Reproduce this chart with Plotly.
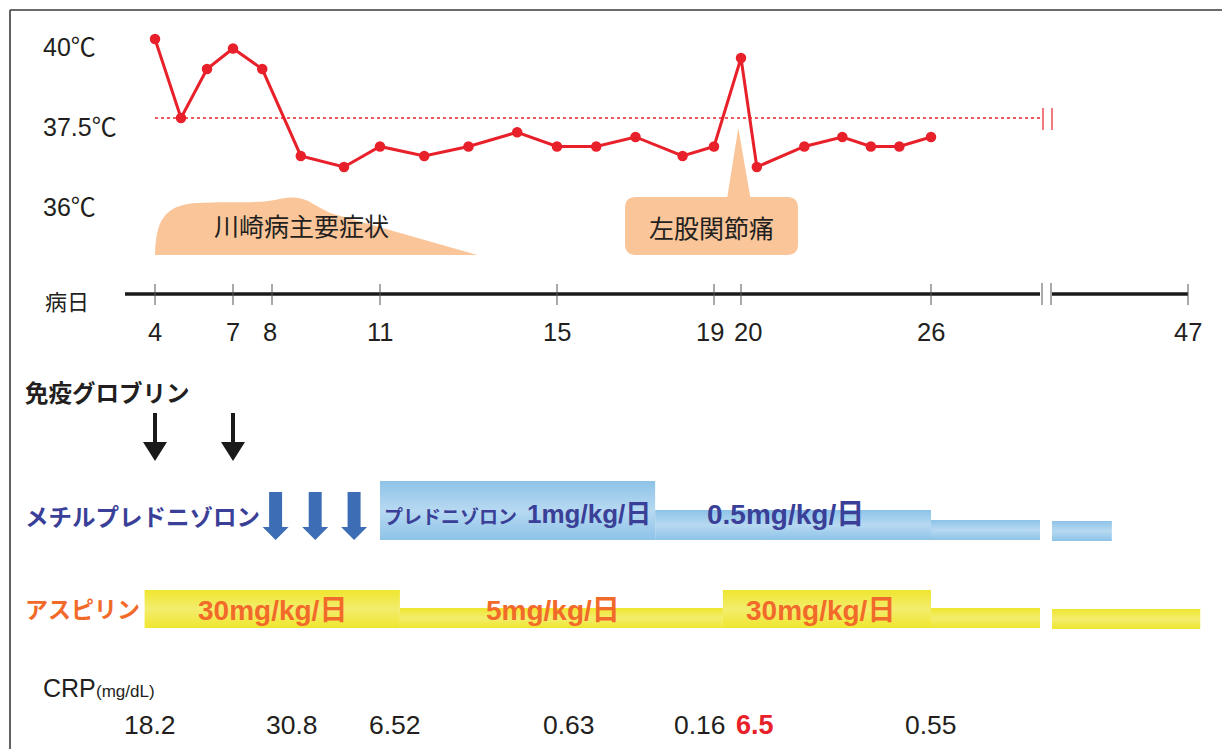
import numpy as np
import plotly.graph_objects as go

# ---------------- data ----------------
# schematic time axis: day -> anchor (non-linear, with a break after day 30)
axis_days = [3, 4, 7, 8, 11, 15, 19, 20, 26, 30, 37, 47, 48]
tick_days = [4, 7, 8, 11, 15, 19, 20, 26, 47]
tick_labels = ["4", "7", "8", "11", "15", "19", "20", "26", "47"]

temp_days = [4, 5, 6, 7, 7.75, 8.8, 10, 11, 12, 13, 14.1, 15, 16, 17, 18.2, 19, 20, 20.5, 22, 23.2, 24.1, 25, 26]
temp_values = [40.0, 37.5, 39.05, 39.7, 39.05, 36.3, 35.95, 36.6, 36.3, 36.6, 37.05, 36.6, 36.6,
               36.9, 36.3, 36.6, 39.4, 35.95, 36.6, 36.9, 36.6, 36.6, 36.9]
fever_threshold = 37.5
temp_tick_labels = ["40℃", "37.5℃", "36℃"]

symptom_label = "川崎病主要症状"
symptom_start, symptom_end = 4, 13.2
joint_label = "左股関節痛"
joint_day = 19.9

ivig_label = "免疫グロブリン"
ivig_days = [4, 7]
mpsl_label = "メチルプレドニゾロン"
mpsl_days = [8.1, 9.2, 10.28]

pred_name = "プレドニゾロン"
pred_start = [11, 17.5, 26, 37]
pred_end = [17.5, 26, 30, 41.4]
pred_labels = ["1mg/kg/日", "0.5mg/kg/日", "", ""]

asa_label = "アスピリン"
asa_start = [3.6, 11.45, 19.33, 26, 37]
asa_end = [11.45, 19.33, 26, 30, 47.9]
asa_labels = ["30mg/kg/日", "5mg/kg/日", "30mg/kg/日", "", ""]

crp_days = [3.8, 8.55, 11.35, 15.3, 18.65, 20.45, 26]
crp_values = ["18.2", "30.8", "6.52", "0.63", "0.16", "6.5", "0.55"]
crp_highlight = [False, False, False, False, False, True, False]

# ---------------- layout constants ----------------
W, H = 1222, 749
axis_pos = [129, 155, 233, 272, 380, 557, 714, 741, 931, 1040, 1052, 1188, 1201.6]


def pos(d):
    return float(np.interp(d, axis_days, axis_pos))


FONT = "Liberation Sans, Arial, Noto Sans CJK JP, sans-serif"
JP = "Noto Sans CJK JP, sans-serif"
DARK = "#231F20"
RED = "#E8202A"
PEACH = "#F9C599"
NAVY = "#3A3F98"
ORANGE = "#F26A2A"
BLUE_ARROW = "#3D6DB4"

fig = go.Figure()
shapes = []
ann = []


def text(x, y, s, size=24, color=DARK, anchor="center", family=FONT, bold=False):
    ann.append(dict(x=x, y=y, xref="x", yref="y2", text=("<b>%s</b>" % s) if bold else s,
                    showarrow=False, xanchor=anchor, yanchor="middle", borderpad=0,
                    font=dict(size=size, color=color, family=family)))


# frame
shapes.append(dict(type="line", xref="x", yref="y2", x0=10, x1=W, y0=10, y1=10,
                   line=dict(color="#3a3a3a", width=1.6)))
shapes.append(dict(type="line", xref="x", yref="y2", x0=10, x1=10, y0=10, y1=H,
                   line=dict(color="#3a3a3a", width=1.6)))

# symptom blob
x0, x1 = pos(symptom_start), pos(symptom_end)
p = (f"M{x0},255 C{x0+1},222 {x0+8},205 {x0+42},203 C{x0+75},201 {x0+100},204 {x0+120},200 "
     f"C{x0+135},196 {x0+147},196 {x0+160},205 L{x0+175},213 L{x1},255 Z")
shapes.append(dict(type="path", xref="x", yref="y2", path=p, fillcolor=PEACH,
                   line=dict(width=0), layer="below"))
text(301, 225, symptom_label, size=25, family=JP)

# joint pain callout
jx = pos(joint_day)
bx0, bx1, by0, by1, r = 625, 798, 197, 255, 11
p = (f"M{bx0+r},{by0} L{jx-11},{by0} L{jx},128 L{jx+12},{by0} L{bx1-r},{by0} "
     f"Q{bx1},{by0} {bx1},{by0+r} L{bx1},{by1-r} Q{bx1},{by1} {bx1-r},{by1} "
     f"L{bx0+r},{by1} Q{bx0},{by1} {bx0},{by1-r} L{bx0},{by0+r} Q{bx0},{by0} {bx0+r},{by0} Z")
shapes.append(dict(type="path", xref="x", yref="y2", path=p, fillcolor=PEACH,
                   line=dict(width=0), layer="below"))
text(711, 227, joint_label, size=25, family=JP)

# temperature labels
for lab, yy in zip(temp_tick_labels, [47, 127, 207]):
    text(42, yy, lab, size=25, anchor="left")

# fever threshold (dotted) + break marks
fig.add_trace(go.Scatter(x=[pos(temp_days[0]), pos(30)], y=[fever_threshold, fever_threshold],
                         mode="lines", line=dict(color=RED, width=1.5, dash="dot"),
                         hoverinfo="skip", showlegend=False))
for bx in [pos(30) + 3, pos(37)]:
    shapes.append(dict(type="line", xref="x", yref="y2", x0=bx, x1=bx, y0=108, y1=130,
                       line=dict(color=RED, width=1.2)))

# temperature curve
fig.add_trace(go.Scatter(x=[pos(d) for d in temp_days], y=temp_values, mode="lines+markers",
                         line=dict(color=RED, width=3), marker=dict(color=RED, size=10.5),
                         hoverinfo="skip", showlegend=False))

# time axis
AY = 294
shapes.append(dict(type="line", xref="x", yref="y2", x0=125, x1=pos(30), y0=AY, y1=AY,
                   line=dict(color="#1a1a1a", width=3.5)))
shapes.append(dict(type="line", xref="x", yref="y2", x0=pos(37), x1=pos(47), y0=AY, y1=AY,
                   line=dict(color="#1a1a1a", width=3.5)))
for bx in [pos(30) + 2, pos(37) - 1]:
    shapes.append(dict(type="line", xref="x", yref="y2", x0=bx, x1=bx, y0=283, y1=305,
                       line=dict(color="#555", width=1)))
for d in tick_days:
    shapes.append(dict(type="line", xref="x", yref="y2", x0=pos(d), x1=pos(d), y0=284, y1=305,
                       line=dict(color="#555", width=1)))
text(44, 300, "病日", size=22, anchor="left", family=JP)
shift = {"19": -4, "20": 7, "8": -2}
for d, lab in zip(tick_days, tick_labels):
    text(pos(d) + shift.get(lab, 0), 332, lab, size=25.5)

# IVIG
text(24, 392, ivig_label, size=23.5, anchor="left", family=JP, bold=True)


def arrow(cx, top, hs, hw_shaft, hw_head, tip, color):
    xs = [cx - hw_shaft, cx + hw_shaft, cx + hw_shaft, cx + hw_head, cx, cx - hw_head, cx - hw_shaft, cx - hw_shaft]
    ys = [top, top, hs, hs, tip, hs, hs, top]
    fig.add_trace(go.Scatter(x=xs, y=ys, yaxis="y2", fill="toself", fillcolor=color, mode="lines",
                             line=dict(width=0, color=color), hoverinfo="skip", showlegend=False))


for d in ivig_days:
    arrow(pos(d), 413, 442, 2.0, 12, 461, "#1a1a1a")

# methylprednisolone
text(24, 516, mpsl_label, size=23.5, anchor="left", family=JP, bold=True, color=NAVY)
for d in mpsl_days:
    arrow(pos(d), 492, 527, 6.5, 13, 540, BLUE_ARROW)


def band(xa, xb, ytop, ybot, c_edge, c_mid):
    fig.add_trace(go.Scatter(x=[xa, xb, xb, xa, xa], y=[ytop, ytop, ybot, ybot, ytop], yaxis="y2",
                             fill="toself", mode="lines", line=dict(width=0, color=c_edge),
                             fillgradient=dict(type="vertical",
                                               colorscale=[[0, c_edge], [0.5, c_mid], [1, c_edge]]),
                             hoverinfo="skip", showlegend=False))


# prednisolone bars
pred_tops = [481, 510, 520, 521]
pred_bottoms = [540, 540, 540, 541]
for s, e, t, b in zip(pred_start, pred_end, pred_tops, pred_bottoms):
    band(pos(s), pos(e), t, b, "#8DC3E8", "#B7D9F1")
text(pos(pred_start[0]) + 3, 515, pred_name, size=19, anchor="left", family=JP, bold=True, color=NAVY)
text(652, 514, pred_labels[0], size=26, anchor="right", bold=True, color=NAVY)
text(785, 514, pred_labels[1], size=28, bold=True, color=NAVY)

# aspirin bars
text(24, 608, asa_label, size=23, anchor="left", family=JP, bold=True, color=ORANGE)
asa_tops = [590, 608, 590, 608, 609]
asa_bottoms = [628, 628, 628, 628, 629]
for s, e, t, b in zip(asa_start, asa_end, asa_tops, asa_bottoms):
    band(pos(s), pos(e), t, b, "#EFE62E", "#F3ED6E")
for lab, cx in zip(asa_labels, [272, 553, 820, 0, 0]):
    if lab:
        text(cx, 610, lab, size=28, bold=True, color=ORANGE)

# CRP
text(42, 688, "CRP", size=25, anchor="left")
text(95, 691, "(mg/dL)", size=17, anchor="left")
for d, v, hl in zip(crp_days, crp_values, crp_highlight):
    if hl:
        text(pos(d), 725, v, size=27, color=RED, bold=True)
    else:
        text(pos(d), 725, v, size=26.5)

T_TOP = 40 + 39 / 31.6
T_BOT = 40 - (H - 39) / 31.6
fig.update_layout(
    width=W, height=H, margin=dict(l=0, r=0, t=0, b=0),
    paper_bgcolor="white", plot_bgcolor="white",
    xaxis=dict(range=[0, W], visible=False, fixedrange=True),
    yaxis=dict(range=[T_BOT, T_TOP], visible=False, fixedrange=True),
    yaxis2=dict(range=[H, 0], visible=False, overlaying="y", fixedrange=True),
    shapes=shapes, annotations=ann, showlegend=False,
)
fig.write_html("out.html", config={"displayModeBar": False},
               post_script="document.body.style.margin='0';document.body.style.padding='0';")
